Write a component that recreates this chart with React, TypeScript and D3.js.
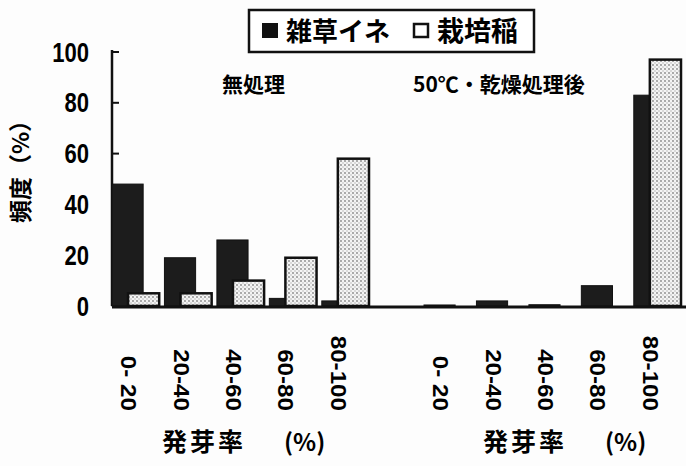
import React, { useEffect, useRef } from "react";
import * as d3 from "d3";

// germination rate classes
const categories = ["0- 20", "20-40", "40-60", "60-80", "80-100"];
// frequency (%) per class
const weedUntreated = [48, 19, 26, 3, 2];
const riceUntreated = [5, 5, 10, 19, 58];
const weedTreated = [0.4, 2, 0.5, 8, 83];
const riceTreated = [0, 0, 0, 0, 97];
const yTicks = [0, 20, 40, 60, 80, 100];

const JP = "'Noto Sans CJK JP', sans-serif";
const NUM = "'Liberation Sans', Arial, sans-serif";

const App: React.FC = () => {
  const svgRef = useRef<SVGSVGElement | null>(null);

  useEffect(() => {
    if (!svgRef.current) return;
    const width = 686;
    const height = 466;

    d3.select(svgRef.current).selectAll("*").remove();
    const svg = d3.select(svgRef.current).attr("width", width).attr("height", height);

    svg.append("rect").attr("width", width).attr("height", height).attr("fill", "#fdfdfd");

    const defs = svg.append("defs");
    const pat = defs.append("pattern")
      .attr("id", "dots")
      .attr("patternUnits", "userSpaceOnUse")
      .attr("width", 4)
      .attr("height", 4);
    pat.append("rect").attr("width", 4).attr("height", 4).attr("fill", "#f4f4f4");
    pat.append("circle").attr("cx", 1).attr("cy", 1).attr("r", 0.9).attr("fill", "#888");
    pat.append("circle").attr("cx", 3).attr("cy", 3).attr("r", 0.7).attr("fill", "#aaa");

    const y = d3.scaleLinear().domain([0, 100]).range([306, 52]);
    const axisX = 112;

    // y axis
    svg.append("line")
      .attr("x1", axisX).attr("x2", axisX)
      .attr("y1", y(100) - 2).attr("y2", y(0))
      .attr("stroke", "#111").attr("stroke-width", 2.5);
    svg.append("g").selectAll("line").data(yTicks.filter(t => t > 0)).enter().append("line")
      .attr("x1", axisX).attr("x2", axisX + 7)
      .attr("y1", d => y(d)).attr("y2", d => y(d))
      .attr("stroke", "#111").attr("stroke-width", 2);
    svg.append("g").selectAll("text").data(yTicks).enter().append("text")
      .attr("transform", d => `translate(89,${y(d)}) scale(0.92,1.12)`)
      .attr("dy", "0.36em")
      .attr("text-anchor", "end")
      .style("font-family", NUM)
      .style("font-weight", "bold")
      .style("font-size", "24px")
      .text(d => d);

    svg.append("text")
      .attr("transform", "translate(29,166) rotate(-90)")
      .attr("text-anchor", "middle")
      .style("font-family", JP)
      .style("font-weight", "bold")
      .style("font-size", "23px")
      .text("頻度（%）");

    const panels = [
      { title: "無処理", titleX: 222, x0: 112, weed: weedUntreated, rice: riceUntreated, axX: 162 },
      { title: "50℃・乾燥処理後", titleX: 413, x0: 424, weed: weedTreated, rice: riceTreated, axX: 483 },
    ];

    panels.forEach(p => {
      const x = d3.scaleBand<string>().domain(categories).range([p.x0, p.x0 + 257]).paddingInner(0.1).paddingOuter(0);
      const bw = x.bandwidth();
      const barW = bw * 0.66;
      const off = bw * 0.34;

      svg.append("g").selectAll("rect").data(categories).enter().append("rect")
        .attr("x", d => x(d)!)
        .attr("y", (d, i) => y(p.weed[i]))
        .attr("width", barW)
        .attr("height", (d, i) => y(0) - y(p.weed[i]))
        .attr("fill", "#1c1c1c")
        .attr("stroke", "#111")
        .attr("stroke-width", 1);

      svg.append("g").selectAll("rect").data(categories.filter((d, i) => p.rice[i] > 0)).enter().append("rect")
        .attr("x", d => x(d)! + off)
        .attr("y", d => y(p.rice[categories.indexOf(d)]))
        .attr("width", barW)
        .attr("height", d => y(0) - y(p.rice[categories.indexOf(d)]))
        .attr("fill", "url(#dots)")
        .attr("stroke", "#111")
        .attr("stroke-width", 2.5);

      svg.append("g").selectAll("text").data(categories).enter().append("text")
        .attr("transform", d => `translate(${x(d)! + 17},411) rotate(90) scale(1.1,1)`)
        .attr("text-anchor", "end")
        .attr("dy", "0.36em")
        .style("font-family", NUM)
        .style("font-weight", "bold")
        .style("font-size", "22px")
        .text(d => d);

      svg.append("text")
        .attr("x", p.titleX)
        .attr("y", 92)
        .style("font-family", JP)
        .style("font-weight", "bold")
        .style("font-size", "21px")
        .text(p.title);

      svg.append("text")
        .attr("x", p.axX)
        .attr("y", 451)
        .style("font-family", JP)
        .style("font-weight", "bold")
        .style("font-size", "25px")
        .style("letter-spacing", "3px")
        .text("発芽率");
      svg.append("text")
        .attr("x", p.axX + 122)
        .attr("y", 451)
        .style("font-family", JP)
        .style("font-weight", "bold")
        .style("font-size", "24px")
        .text("(%)");
    });

    // x baseline
    svg.append("line")
      .attr("x1", axisX).attr("x2", width)
      .attr("y1", y(0) + 1).attr("y2", y(0) + 1)
      .attr("stroke", "#111").attr("stroke-width", 3);

    // legend
    const lg = svg.append("g");
    lg.append("rect").attr("x", 249).attr("y", 10).attr("width", 285).attr("height", 42)
      .attr("fill", "#fff").attr("stroke", "#111").attr("stroke-width", 2.5);
    lg.append("rect").attr("x", 262).attr("y", 23).attr("width", 16).attr("height", 15).attr("fill", "#111");
    lg.append("text").attr("x", 286).attr("y", 41)
      .style("font-family", JP).style("font-weight", "bold").style("font-size", "26px")
      .text("雑草イネ");
    lg.append("rect").attr("x", 414).attr("y", 24).attr("width", 14).attr("height", 13)
      .attr("fill", "#fff").attr("stroke", "#111").attr("stroke-width", 2.5);
    lg.append("text").attr("x", 437).attr("y", 41)
      .style("font-family", JP).style("font-weight", "bold").style("font-size", "27px")
      .text("栽培稲");
  }, []);

  return <svg ref={svgRef} style={{ position: "absolute", left: 0, top: 0 }}></svg>;
};

export default App;
